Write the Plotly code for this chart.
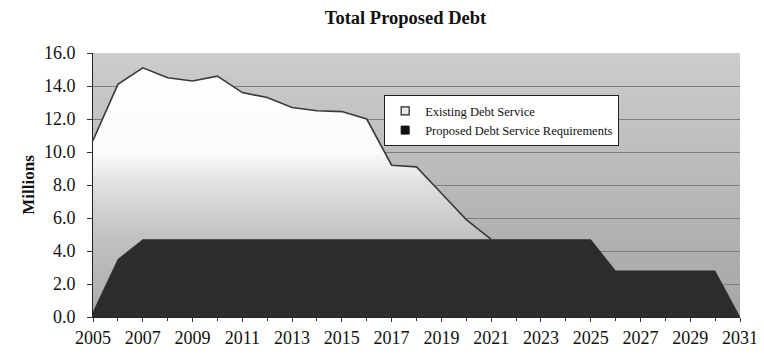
import base64, struct, zlib
import plotly.graph_objects as go

# ---- data ----
years_existing = list(range(2005, 2022))
existing = [10.7, 14.1, 15.1, 14.5, 14.3, 14.6, 13.6, 13.3, 12.7, 12.5, 12.45, 12.0,
            9.2, 9.1, 7.5, 5.9, 4.7]
years_proposed = list(range(2005, 2032))
proposed = [0.3, 3.5, 4.7, 4.7, 4.7, 4.7, 4.7, 4.7, 4.7, 4.7, 4.7, 4.7, 4.7, 4.7,
            4.7, 4.7, 4.7, 4.7, 4.7, 4.7, 4.7, 2.8, 2.8, 2.8, 2.8, 2.8, 0.0]
y_ticks = [0, 2, 4, 6, 8, 10, 12, 14, 16]
x_ticks = list(range(2005, 2032, 2))


# ---- vertical gradient background (PNG data URI) ----
def gradient_png(top, bottom, h=128):
    rows = []
    for i in range(h):
        t = i / (h - 1)
        v = int(round(top + (bottom - top) * t))
        rows.append(b"\x00" + bytes([v, v, v] * 4))
    raw = b"".join(rows)

    def chunk(tag, data):
        c = struct.pack(">I", len(data)) + tag + data
        return c + struct.pack(">I", zlib.crc32(tag + data) & 0xffffffff)

    png = b"\x89PNG\r\n\x1a\n"
    png += chunk(b"IHDR", struct.pack(">IIBBBBB", 4, h, 8, 2, 0, 0, 0))
    png += chunk(b"IDAT", zlib.compress(raw))
    png += chunk(b"IEND", b"")
    return "data:image/png;base64," + base64.b64encode(png).decode()


serif = "Liberation Serif"
dark = "#2c2c2c"

fig = go.Figure()
fig.add_trace(go.Scatter(
    x=years_existing, y=existing, name="Existing Debt Service",
    mode="lines", line=dict(color="#3a3a3a", width=1.6),
    fill="tozeroy", showlegend=False,
    fillgradient=dict(type="vertical", start=0, stop=15,
                      colorscale=[[0, "#a9a9a9"], [0.33, "#c2c2c2"],
                                  [0.55, "#e2e2e2"], [0.66, "#fafafa"],
                                  [1, "#ffffff"]]),
))
fig.add_trace(go.Scatter(
    x=years_proposed, y=proposed, name="Proposed Debt Service Requirements",
    mode="lines", line=dict(color=dark, width=0.5),
    fill="tozeroy", fillcolor=dark, showlegend=False,
))
# legend entries (square swatches)
fig.add_trace(go.Scatter(
    x=[None], y=[None], mode="markers", name="Existing Debt Service",
    marker=dict(symbol="square", size=8, color="#e8e8e8",
                line=dict(color="#222", width=1.2)),
))
fig.add_trace(go.Scatter(
    x=[None], y=[None], mode="markers", name="Proposed Debt Service Requirements",
    marker=dict(symbol="square", size=8, color="#111",
                line=dict(color="#111", width=1)),
))

fig.update_layout(
    width=756, height=348,
    margin=dict(l=85, r=24, t=45, b=39, autoexpand=False),
    paper_bgcolor="white", plot_bgcolor="rgba(0,0,0,0)",
    font=dict(family=serif, color="#111", size=18),
    title=dict(text="<b>Total Proposed Debt</b>", x=0.483, xanchor="center",
               xref="paper", y=0.972, yanchor="middle",
               font=dict(family=serif, size=18.5)),
    images=[dict(source=gradient_png(0xcc, 0xa6), xref="paper", yref="paper",
                 x=0, y=1, sizex=1, sizey=1, sizing="stretch", xanchor="left",
                 yanchor="top", layer="below")],
    legend=dict(x=0.45, y=0.84, xanchor="left", yanchor="top",
                bgcolor="white", bordercolor="#222", borderwidth=1,
                font=dict(family=serif, size=12.5), tracegroupgap=0,
                itemwidth=30),
    showlegend=True,
)
fig.update_xaxes(range=[2005, 2031], tickvals=x_ticks,
                 ticktext=[str(v) for v in x_ticks],
                 ticks="outside", ticklen=4, tickcolor="#333",
                 minor=dict(ticks="outside", dtick=1, ticklen=3, tickcolor="#333"),
                 showgrid=False, showline=True, linecolor="#222", linewidth=1,
                 zeroline=False, tickfont=dict(size=18), automargin=False)
fig.update_yaxes(range=[0, 16], tickvals=y_ticks, tickformat=".1f",
                 ticks="outside", ticklen=5, tickcolor="#333",
                 ticklabelstandoff=8,
                 showgrid=True, gridcolor="#7d7d7d", gridwidth=1,
                 showline=True, linecolor="#222", linewidth=1, zeroline=False,
                 title=dict(text="<b>Millions</b>", font=dict(size=17), standoff=4),
                 tickfont=dict(size=18), automargin=False)

fig.write_html("out.html")
